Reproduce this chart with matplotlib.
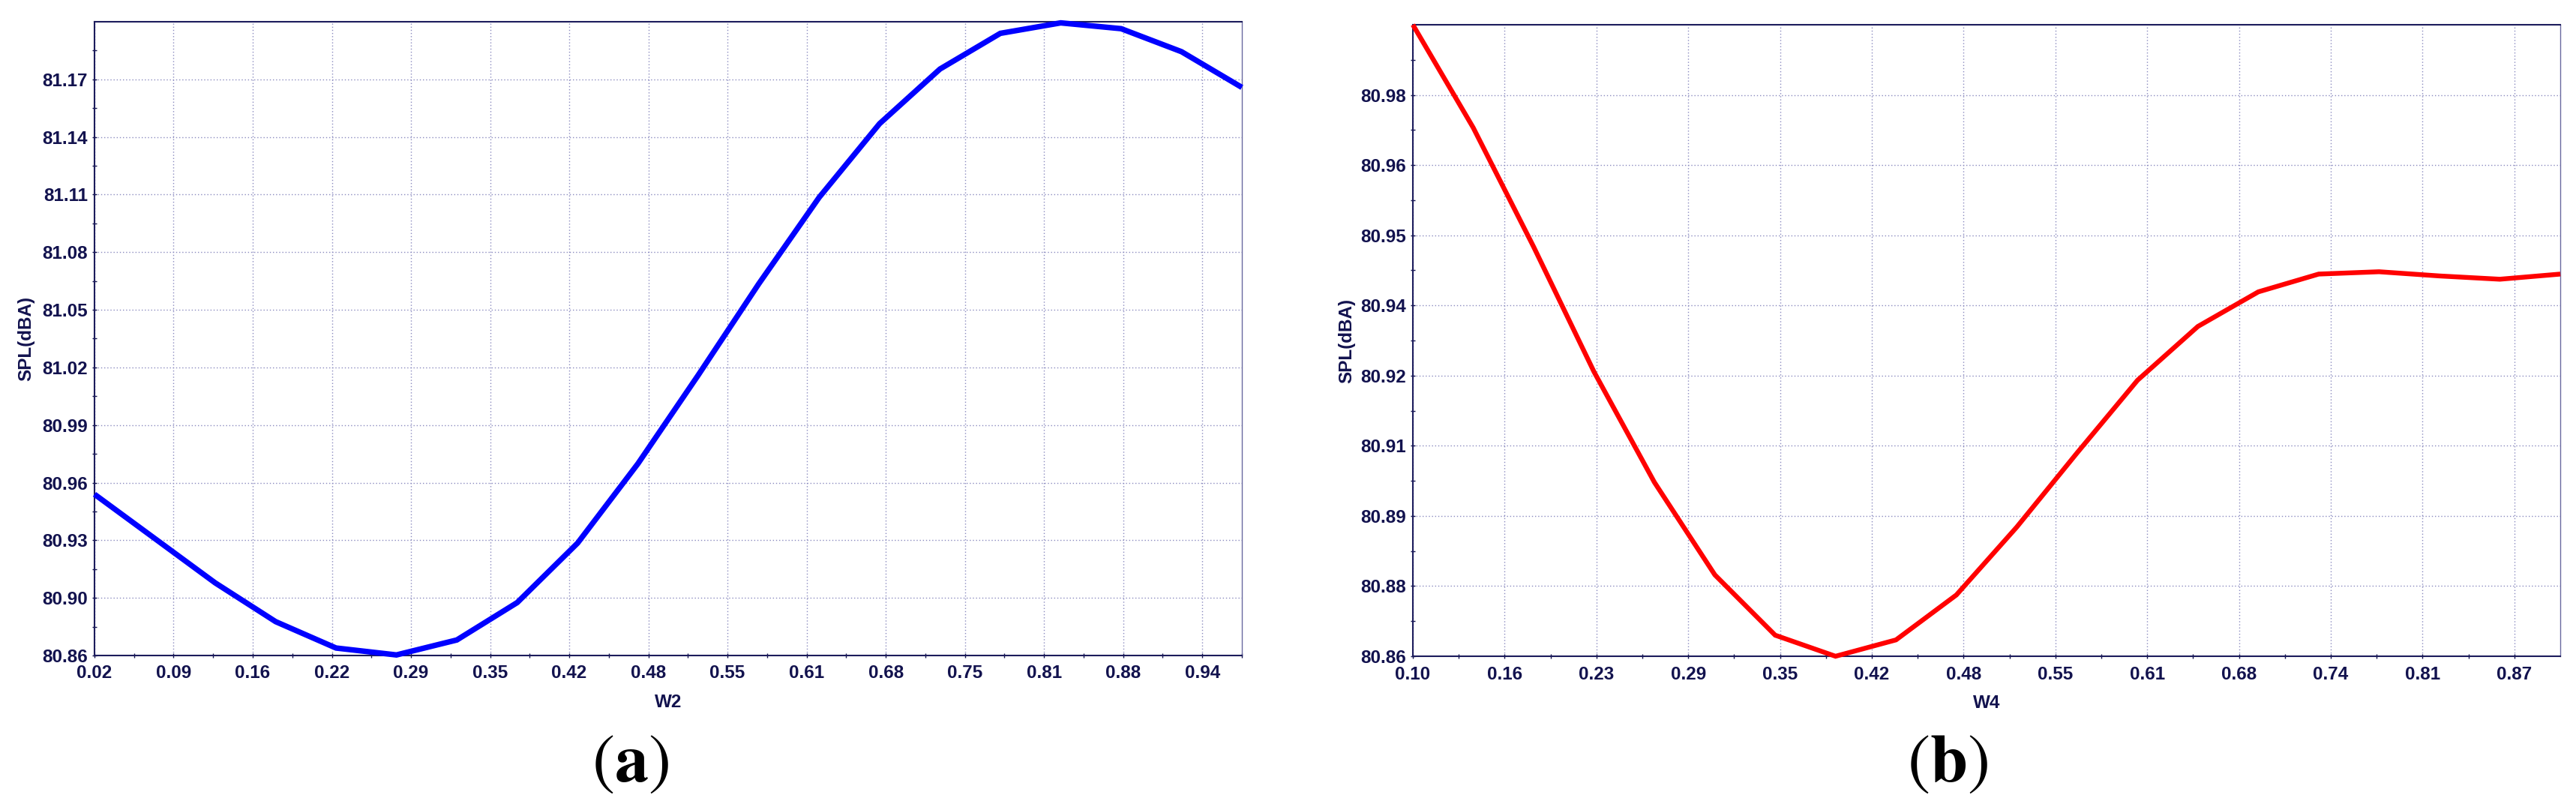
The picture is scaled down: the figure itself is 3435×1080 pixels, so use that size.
import matplotlib
matplotlib.use("Agg")
import matplotlib.pyplot as plt
from matplotlib.ticker import FixedLocator, FixedFormatter

# ---------------- data ----------------
# Panel (a): SPL vs W2
w2 = [0.025, 0.075, 0.125, 0.175, 0.225, 0.275, 0.325, 0.375, 0.425, 0.475,
      0.525, 0.575, 0.625, 0.675, 0.725, 0.775, 0.825, 0.875, 0.925, 0.975]
spl_a = [80.9507, 80.9270, 80.9033, 80.8826, 80.8685, 80.8648, 80.8728, 80.8928,
         80.9246, 80.9671, 81.0145, 81.0632, 81.1094, 81.1488, 81.1780, 81.1971,
         81.2027, 81.1996, 81.1873, 81.1682]
xt_a = [0.025, 0.0905, 0.1560, 0.2216, 0.2871, 0.3526, 0.4181, 0.4836, 0.5491,
        0.6147, 0.6802, 0.7457, 0.8112, 0.8767, 0.9422]
xl_a = ["0.02", "0.09", "0.16", "0.22", "0.29", "0.35", "0.42", "0.48", "0.55",
        "0.61", "0.68", "0.75", "0.81", "0.88", "0.94"]
yt_a = [80.8645, 80.8953, 80.9261, 80.9569, 80.9877, 81.0185, 81.0493, 81.0801,
        81.1109, 81.1417, 81.1725]
yl_a = ["80.86", "80.90", "80.93", "80.96", "80.99", "81.02", "81.05", "81.08",
        "81.11", "81.14", "81.17"]
xlim_a = (0.025, 0.975)
ylim_a = (80.8645, 81.2033)

# Panel (b): SPL vs W4
w4 = [0.0960, 0.1384, 0.1809, 0.2233, 0.2657, 0.3082, 0.3506, 0.3930, 0.4355,
      0.4779, 0.5203, 0.5628, 0.6052, 0.6476, 0.6901, 0.7325, 0.7749, 0.8174,
      0.8598, 0.9023]
spl_b = [80.9950, 80.9730, 80.9475, 80.9208, 80.8972, 80.8774, 80.8645, 80.8600,
         80.8635, 80.8731, 80.8876, 80.9035, 80.9190, 80.9305, 80.9379, 80.9417,
         80.9422, 80.9413, 80.9406, 80.9417]
xt_b = [0.096, 0.1605, 0.225, 0.2895, 0.354, 0.4185, 0.483, 0.5475, 0.612,
        0.6765, 0.741, 0.8055, 0.870]
xl_b = ["0.10", "0.16", "0.23", "0.29", "0.35", "0.42", "0.48", "0.55", "0.61",
        "0.68", "0.74", "0.81", "0.87"]
yt_b = [80.860, 80.875, 80.890, 80.905, 80.920, 80.935, 80.950, 80.965, 80.980]
yl_b = ["80.86", "80.88", "80.89", "80.91", "80.92", "80.94", "80.95", "80.96", "80.98"]
xlim_b = (0.096, 0.90225)
ylim_b = (80.860, 80.995)

# ---------------- style ----------------
NAVY = "#12124e"
SPINE = "#1c1c5c"
GRID = "#8a8abf"
TICKFONT = dict(family=["Liberation Sans", "DejaVu Sans"], weight="bold", size=17.5)

plt.rcParams["mathtext.fontset"] = "stix"

fig = plt.figure(figsize=(34.35, 10.8), dpi=100)
W, H = 3435.0, 1080.0

def make_axes(px_left, px_right, px_top, px_bottom):
    return fig.add_axes([px_left / W, 1 - px_bottom / H,
                         (px_right - px_left) / W, (px_bottom - px_top) / H])

ax_a = make_axes(126, 1656, 29, 874)
ax_b = make_axes(1884, 3414, 33, 875)

def style(ax, x, y, color, lw, xt, xl, yt, yl, xlim, ylim, xlabel, ylab_x):
    ax.plot(x, y, color=color, lw=lw, solid_joinstyle="miter", solid_capstyle="butt",
            zorder=3, clip_on=False)
    ax.set_xlim(*xlim)
    ax.set_ylim(*ylim)
    ax.xaxis.set_major_locator(FixedLocator(xt))
    ax.xaxis.set_major_formatter(FixedFormatter(xl))
    ax.yaxis.set_major_locator(FixedLocator(yt))
    ax.yaxis.set_major_formatter(FixedFormatter(yl))
    dx = xt[1] - xt[0]
    dy = yt[1] - yt[0]
    xminor = [t + dx / 2 for t in xt if t + dx / 2 < xlim[1]]
    yminor = [t + dy / 2 for t in yt if t + dy / 2 < ylim[1]]
    ax.xaxis.set_minor_locator(FixedLocator(xminor))
    ax.yaxis.set_minor_locator(FixedLocator(yminor))
    ax.grid(True, which="major", color=GRID, lw=1.0, ls=(0, (1, 2)), zorder=1)
    ax.tick_params(which="both", direction="inout", length=5, width=1.0, color=NAVY)
    ax.tick_params(axis="x", which="major", pad=6.5)
    ax.tick_params(axis="y", which="major", pad=4)
    for lab in ax.get_xticklabels() + ax.get_yticklabels():
        lab.set_fontfamily(TICKFONT["family"])
        lab.set_fontweight("bold")
        lab.set_fontsize(TICKFONT["size"])
        lab.set_color(NAVY)
    for s in ("left", "bottom", "top"):
        ax.spines[s].set_color(SPINE)
        ax.spines[s].set_linewidth(1.5)
    ax.spines["right"].set_color("#6a6aa0")
    ax.spines["right"].set_linewidth(1.0)
    ax.set_xlabel(xlabel, fontfamily=TICKFONT["family"], fontweight="bold",
                  fontsize=17.5, color=NAVY, va="top")
    ax.xaxis.set_label_coords(0.5, -0.060)
    ax.set_ylabel("SPL(dBA)", fontfamily=TICKFONT["family"], fontweight="bold",
                  fontsize=17.5, color=NAVY)
    ax.yaxis.set_label_coords(ylab_x, 0.5)

style(ax_a, w2, spl_a, "#0000ff", 5.3, xt_a, xl_a, yt_a, yl_a, xlim_a, ylim_a, "W2", -0.052)
style(ax_b, w4, spl_b, "#ff0000", 4.6, xt_b, xl_b, yt_b, yl_b, xlim_b, ylim_b, "W4", -0.050)

fig.text(840 / W, 1 - 1021 / H, r"($\mathbf{a}$)", fontfamily="STIXGeneral",
         fontsize=65, ha="center", va="center", color="black")
fig.text(2597 / W, 1 - 1021 / H, r"($\mathbf{b}$)", fontfamily="STIXGeneral",
         fontsize=65, ha="center", va="center", color="black")

fig.savefig("out.png", dpi=100, facecolor="white")
